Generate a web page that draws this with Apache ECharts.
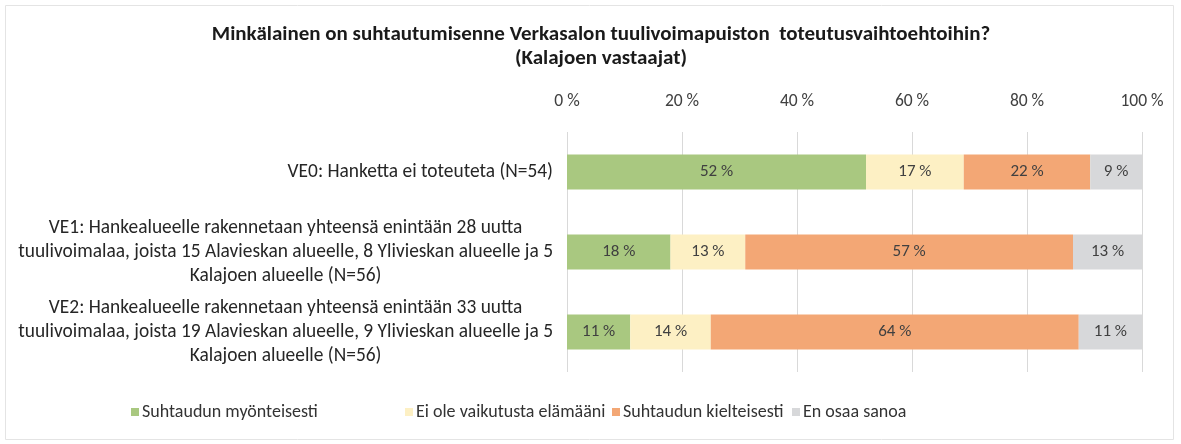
<!DOCTYPE html>
<html>
<head>
<meta charset="utf-8">
<script src="https://cdn.jsdelivr.net/npm/echarts@6/dist/echarts.min.js"></script>
<style>
  html, body { margin: 0; padding: 0; background: #ffffff; }
  #chart { width: 1181px; height: 444px; }
</style>
</head>
<body>
<div id="chart"></div>
<script>
// Response options (top to bottom)
const categories = [
  'VE0: Hanketta ei toteuteta (N=54)',
  'VE1: Hankealueelle rakennetaan yhteensä enintään 28 uutta\ntuulivoimalaa, joista 15 Alavieskan alueelle, 8 Ylivieskan alueelle ja 5\nKalajoen alueelle (N=56)',
  'VE2: Hankealueelle rakennetaan yhteensä enintään 33 uutta\ntuulivoimalaa, joista 19 Alavieskan alueelle, 9 Ylivieskan alueelle ja 5\nKalajoen alueelle (N=56)'
];

// Share of respondents (%) per attitude
const seriesNames = ['Suhtaudun myönteisesti', 'Ei ole vaikutusta elämääni', 'Suhtaudun kielteisesti', 'En osaa sanoa'];
const positive = [52, 18, 11];
const noEffect = [17, 13, 14];
const negative = [22, 57, 64];
const dontKnow = [9, 13, 11];

const xTicks = [0, 20, 40, 60, 80, 100];

const colors = ['#A9C880', '#FDF0C4', '#F3A775', '#D7D8DA'];
const FONT = 'Carlito, Calibri, Lato, "Open Sans", sans-serif';

const values = [positive, noEffect, negative, dontKnow];

// one legend block per entry so each sits at its own x
const legendLefts = [131, 405, 612, 792];

const chart = echarts.init(document.getElementById('chart'), null, { renderer: 'canvas' });

chart.setOption({
  backgroundColor: '#ffffff',
  animation: false,
  textStyle: { fontFamily: FONT },
  graphic: [{
    type: 'rect',
    shape: { x: 5.5, y: 5.5, width: 1168, height: 434 },
    style: { fill: 'none', stroke: '#E4E4E4', lineWidth: 1 },
    silent: true
  }],
  title: {
    text: 'Minkälainen on suhtautumisenne Verkasalon tuulivoimapuiston  toteutusvaihtoehtoihin?\n(Kalajoen vastaajat)',
    left: 596,
    textAlign: 'center',
    top: 18,
    textStyle: {
      fontFamily: FONT,
      fontSize: 21,
      fontWeight: 'bold',
      color: '#1a1a1a',
      lineHeight: 24
    }
  },
  legend: seriesNames.map((name, i) => ({
    data: [name],
    left: legendLefts[i],
    top: 403,
    padding: 0,
    itemWidth: 8,
    itemHeight: 8,
    icon: 'rect',
    textStyle: { fontFamily: FONT, fontSize: 18, color: '#333333', padding: [0, 0, 0, -2] }
  })),
  grid: { left: 567, right: 39, top: 132, bottom: 72 },
  xAxis: {
    type: 'value',
    position: 'top',
    min: xTicks[0],
    max: xTicks[xTicks.length - 1],
    interval: 20,
    axisLine: { show: false },
    axisTick: { show: false },
    axisLabel: {
      margin: 21,
      fontFamily: FONT,
      fontSize: 17.5,
      color: '#404040',
      formatter: v => v + ' %'
    },
    splitLine: { show: true, lineStyle: { color: '#D9D9D9', width: 1 } }
  },
  yAxis: {
    type: 'category',
    data: categories,
    inverse: true,
    axisLine: { show: false },
    axisTick: { show: false },
    axisLabel: {
      margin: 14,
      align: 'right',
      formatter: v => v.split('\n').map(l => '{c|' + l + '}').join('\n'),
      rich: {
        c: {
          align: 'center',
          fontFamily: FONT,
          fontSize: 19.4,
          lineHeight: 24,
          color: '#262626'
        }
      }
    }
  },
  series: seriesNames.map((name, i) => ({
    name,
    type: 'bar',
    stack: 'total',
    data: values[i],
    barWidth: '44%',
    clip: true,
    itemStyle: { color: colors[i] },
    label: {
      show: true,
      position: 'inside',
      fontFamily: FONT,
      fontSize: 17,
      color: '#404040',
      formatter: p => p.value + ' %'
    }
  }))
});
</script>
</body>
</html>
